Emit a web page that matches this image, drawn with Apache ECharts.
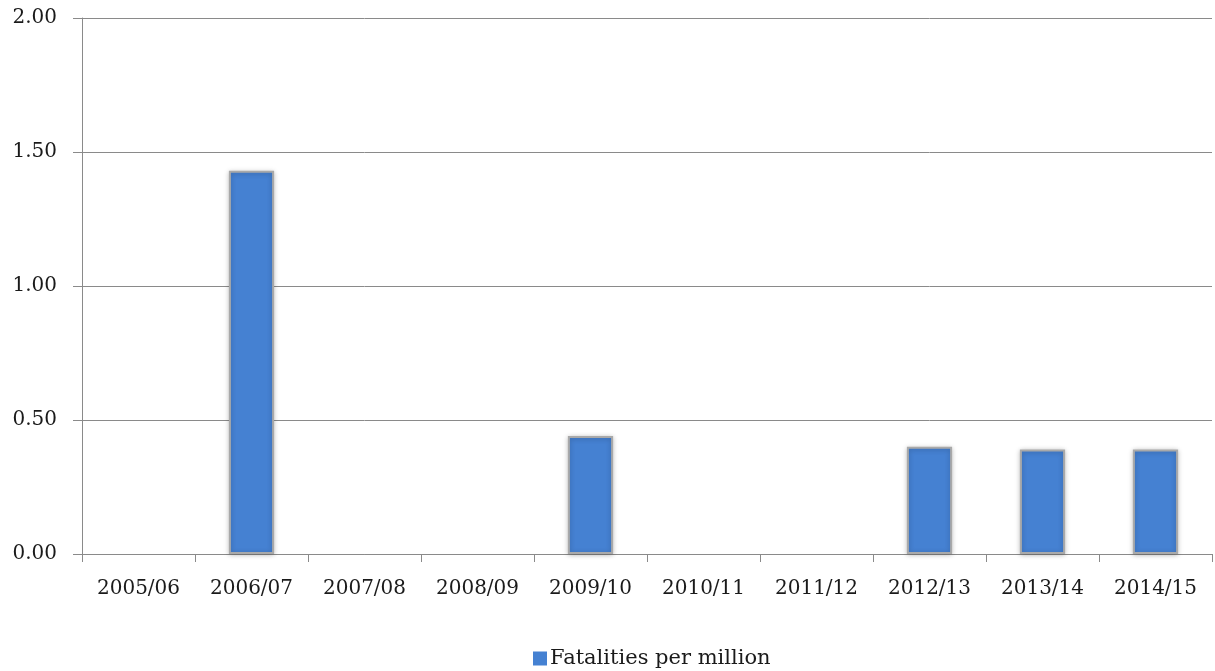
<!DOCTYPE html>
<html>
<head>
<meta charset="utf-8">
<style>
  html, body { margin: 0; padding: 0; background: #ffffff; }
  #chart { width: 1215px; height: 671px; }
</style>
<script src="https://cdn.jsdelivr.net/npm/echarts@6/dist/echarts.min.js"></script>
</head>
<body>
<div id="chart"></div>
<script>
// Financial years shown along the x axis
const years = ['2005/06', '2006/07', '2007/08', '2008/09', '2009/10',
               '2010/11', '2011/12', '2012/13', '2013/14', '2014/15'];
// Fatalities per million for each year
const fatalitiesPerMillion = [0, 1.43, 0, 0, 0.44, 0, 0, 0.40, 0.39, 0.39];
const seriesName = 'Fatalities per million';

const textFont = 'DejaVu Serif';
const textColor = '#1a1a1a';
const axisGray = '#8a8a8a';

// Bars with a zero value get no outline or shadow so nothing shows on the baseline
const barData = fatalitiesPerMillion.map(v => v === 0
  ? { value: v, itemStyle: { borderWidth: 0, shadowBlur: 0, shadowOffsetY: 0, opacity: 0 } }
  : { value: v });

const chart = echarts.init(document.getElementById('chart'), null, { renderer: 'canvas' });

chart.setOption({
  animation: false,
  backgroundColor: '#ffffff',
  grid: { left: 82, right: 3, top: 18, bottom: 117, containLabel: false },
  legend: {
    data: [seriesName],
    left: 528,
    top: 643,
    itemWidth: 14,
    itemHeight: 14,
    itemGap: 4,
    icon: 'rect',
    itemStyle: { borderWidth: 0 },
    textStyle: { fontFamily: textFont, fontSize: 21, color: textColor, padding: [0, 0, 0, -2] }
  },
  xAxis: {
    type: 'category',
    data: years,
    axisLine: { lineStyle: { color: axisGray, width: 1 } },
    axisTick: { show: true, alignWithLabel: false, length: 8, lineStyle: { color: axisGray } },
    axisLabel: { fontFamily: textFont, fontSize: 20, color: textColor, margin: 25, interval: 0 },
    splitLine: { show: false }
  },
  yAxis: {
    type: 'value',
    min: 0,
    max: 2,
    interval: 0.5,
    axisLine: { show: true, lineStyle: { color: axisGray, width: 1 } },
    axisTick: { show: true, length: 9, lineStyle: { color: axisGray } },
    axisLabel: {
      fontFamily: textFont, fontSize: 20, color: textColor, margin: 25,
      formatter: v => v.toFixed(2)
    },
    splitLine: { show: true, lineStyle: { color: axisGray, width: 1 } }
  },
  series: [{
    name: seriesName,
    type: 'bar',
    data: barData,
    barWidth: '40%',
    itemStyle: {
      color: '#4581d2',
      borderColor: '#a9a9a9',
      borderWidth: 2,
      shadowColor: 'rgba(0,0,0,0.25)',
      shadowBlur: 5,
      shadowOffsetX: 0,
      shadowOffsetY: 1
    }
  }]
});
</script>
</body>
</html>
